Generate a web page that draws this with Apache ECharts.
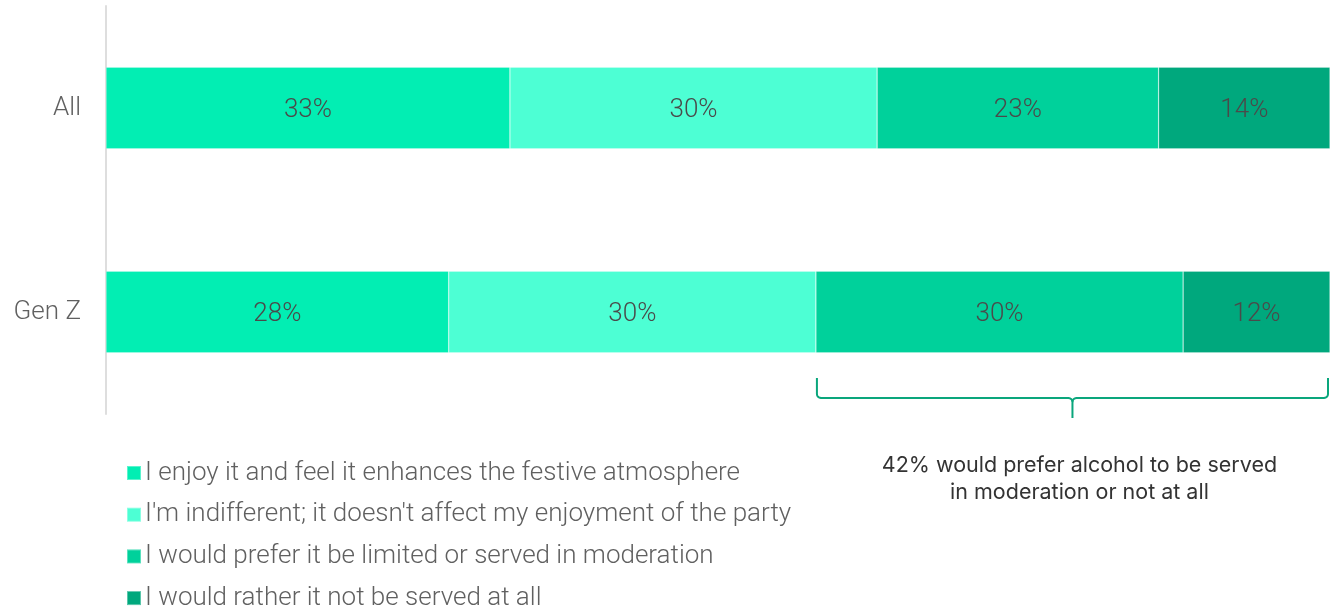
<!DOCTYPE html>
<html>
<head>
<meta charset="utf-8">
<script src="https://cdn.jsdelivr.net/npm/echarts@6/dist/echarts.min.js"></script>
<style>
  html, body { margin: 0; padding: 0; background: #ffffff; }
  #chart { width: 1330px; height: 607px; }
</style>
</head>
<body>
<div id="chart"></div>
<script>
// Attitudes toward alcohol at office holiday parties, by group
const categories = ['All', 'Gen Z'];
const seriesNames = [
  'I enjoy it and feel it enhances the festive atmosphere',
  "I'm indifferent; it doesn't affect my enjoyment of the party",
  'I would prefer it be limited or served in moderation',
  'I would rather it not be served at all'
];
const enjoyValues = [33, 28];
const indifferentValues = [30, 30];
const limitedValues = [23, 30];
const notServedValues = [14, 12];
const seriesColors = ['#02EEB3', '#4DFFD4', '#00D19B', '#00A87D'];
const noteText = '42% would prefer alcohol to be served\nin moderation or not at all';

const valueSets = [enjoyValues, indifferentValues, limitedValues, notServedValues];

const chart = echarts.init(document.getElementById('chart'));

const option = {
  animation: false,
  grid: { left: 106, right: 0, top: 6, bottom: 193, containLabel: false },
  xAxis: {
    type: 'value', min: 0, max: 100,
    show: false
  },
  yAxis: {
    type: 'category',
    data: categories,
    inverse: true,
    axisLine: { show: true, lineStyle: { color: '#dedede', width: 2 } },
    axisTick: { show: false },
    axisLabel: {
      margin: 25,
      color: '#606060',
      fontSize: 26,
      fontFamily: 'Roboto',
      fontWeight: 300,
      padding: [4, 0, 0, 0]
    }
  },
  legend: {
    orient: 'vertical',
    left: 121,
    top: 455,
    height: 160,
    itemWidth: 14,
    itemHeight: 14,
    itemGap: 15.7,
    icon: 'rect',
    textStyle: {
      color: '#606060',
      fontSize: 26,
      fontFamily: 'Roboto',
      fontWeight: 300,
      padding: [0, 0, 0, -1]
    },
    data: seriesNames
  },
  series: seriesNames.map((name, i) => ({
    name: name,
    type: 'bar',
    stack: 'total',
    barWidth: '40%',
    data: valueSets[i],
    itemStyle: {
      color: seriesColors[i],
      borderColor: 'rgba(255,255,255,0.35)',
      borderWidth: 0.6
    },
    label: {
      show: true,
      position: 'inside',
      offset: [0, 2],
      formatter: '{c}%',
      color: '#4a4a4a',
      fontSize: 26,
      fontFamily: 'Roboto',
      fontWeight: 300
    }
  }))
};

chart.setOption(option);

// Quarter-circle corner points between two segments, for a rounded brace
function corner(cx, cy, r, a0, a1) {
  const pts = [];
  for (let k = 0; k <= 6; k++) {
    const a = a0 + (a1 - a0) * k / 6;
    pts.push([cx + r * Math.cos(a), cy + r * Math.sin(a)]);
  }
  return pts;
}

// Brace under the two "limited / not served" segments of the Gen Z bar
function drawBrace() {
  const genZ = categories.length - 1;
  const startVal = enjoyValues[genZ] + indifferentValues[genZ];
  const endVal = startVal + limitedValues[genZ] + notServedValues[genZ];
  const p0 = chart.convertToPixel({ gridIndex: 0 }, [startVal, genZ]);
  const p1 = chart.convertToPixel({ gridIndex: 0 }, [endVal, genZ]);
  const x0 = p0[0] + 1, x1 = p1[0] - 2;
  const xm = (x0 + x1) / 2;
  const yTop = p0[1] + 66, yMid = yTop + 20, yBot = yMid + 20;
  const r = 4;
  const H = Math.PI / 2;

  const leftArm = [[x0, yTop]]
    .concat(corner(x0 + r, yMid - r, r, Math.PI, H))
    .concat(corner(xm - r, yMid + r, r, -H, 0))
    .concat([[xm, yBot]]);
  const rightArm = [[x1, yTop]]
    .concat(corner(x1 - r, yMid - r, r, 0, H))
    .concat(corner(xm + r, yMid + r, r, -H, -Math.PI));

  const lineStyle = { fill: null, stroke: '#0AA67C', lineWidth: 2 };
  chart.setOption({
    graphic: [
      { type: 'polyline', shape: { points: leftArm }, style: lineStyle, silent: true },
      { type: 'polyline', shape: { points: rightArm }, style: lineStyle, silent: true },
      {
        type: 'text',
        x: xm + 7,
        y: yBot + 34,
        style: {
          text: noteText,
          fill: '#333333',
          font: '21.5px Inter, "Liberation Sans", sans-serif',
          align: 'center',
          verticalAlign: 'top',
          lineHeight: 27
        },
        silent: true
      }
    ]
  });
}
drawBrace();
</script>
</body>
</html>
